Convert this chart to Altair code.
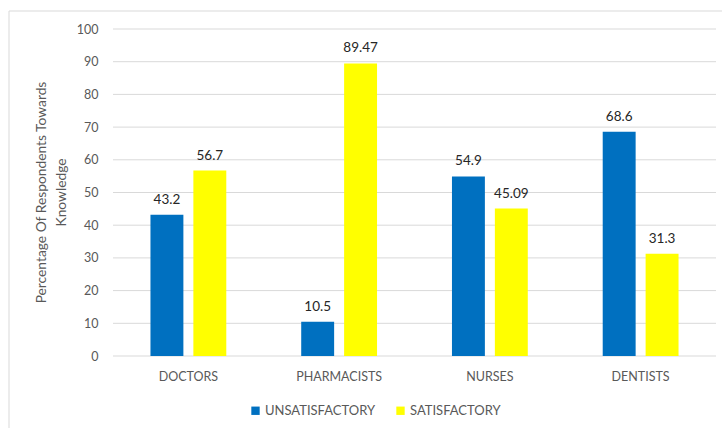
import altair as alt
import pandas as pd

# Knowledge survey results by professional group
groups = ["DOCTORS", "PHARMACISTS", "NURSES", "DENTISTS"]
unsatisfactory = [43.2, 10.5, 54.9, 68.6]
satisfactory = [56.7, 89.47, 45.09, 31.3]
levels = ["UNSATISFACTORY", "SATISFACTORY"]
level_colors = ["#0070C0", "#FFFF00"]
y_ticks = [0, 10, 20, 30, 40, 50, 60, 70, 80, 90, 100]

rows = []
for g, u, s in zip(groups, unsatisfactory, satisfactory):
    rows.append({"group": g, "level": levels[0], "value": u})
    rows.append({"group": g, "level": levels[1], "value": s})
df = pd.DataFrame(rows)
ticks_df = pd.DataFrame({"tick": y_ticks})

FONT = "Lato"
GRAY = "#595959"
y_scale = alt.Scale(domain=[0, 100], nice=False)

x_enc = alt.X("group:N", sort=groups, title=None,
              scale=alt.Scale(paddingInner=0.497, paddingOuter=0.2485),
              axis=alt.Axis(labelAngle=0, ticks=False, domain=False,
                            labelPadding=14, labelColor=GRAY,
                            labelFontSize=12.5, labelFont=FONT, grid=False))
xo_enc = alt.XOffset("level:N", sort=levels,
                     scale=alt.Scale(paddingInner=0.2326, paddingOuter=0))

# horizontal gridlines at every tick value; this layer carries the y axis
grid = alt.Chart(ticks_df).mark_rule(color="#d9d9d9", strokeWidth=1).encode(
    y=alt.Y("tick:Q", scale=y_scale,
            axis=alt.Axis(values=y_ticks, labelOverlap=False,
                          ticks=False, domain=False, grid=False,
                          labelPadding=15, labelColor=GRAY,
                          labelFontSize=12.5, labelFont=FONT,
                          title=["Percentage Of Respondents Towards", "Knowledge"],
                          titleColor=GRAY, titleFont=FONT, titleFontSize=13.8,
                          titleFontWeight="normal", titleAngle=-90,
                          titleX=-79, titleY=163, titleAlign="center",
                          titleBaseline="top", titleLineHeight=20)),
)

bars = alt.Chart(df).mark_bar().encode(
    x=x_enc,
    xOffset=xo_enc,
    y=alt.Y("value:Q", scale=y_scale, axis=None),
    color=alt.Color("level:N", sort=levels,
                    scale=alt.Scale(domain=levels, range=level_colors),
                    legend=alt.Legend(title=None, orient="none",
                                      direction="horizontal",
                                      legendX=136, legendY=375,
                                      symbolType="square", symbolSize=70,
                                      symbolStrokeWidth=0,
                                      labelColor=GRAY, labelFont=FONT,
                                      labelFontSize=13, columnPadding=18,
                                      symbolOffset=0, labelOffset=3)),
)

labels = alt.Chart(df).mark_text(
    baseline="bottom", dy=-8, fontSize=13.5, font=FONT, color="#262626"
).encode(
    x=x_enc,
    xOffset=xo_enc,
    y=alt.Y("value:Q", scale=y_scale, axis=None),
    text=alt.Text("value:Q"),
)

# light frame around the whole figure
frame = alt.Chart(pd.DataFrame({"k": [0]})).mark_rect(
    fill=None, stroke="#d9d9d9", strokeWidth=1, clip=False
).encode(
    x=alt.value(-104), x2=alt.value(620),
    y=alt.value(-18), y2=alt.value(410),
)

chart = alt.layer(frame, grid, bars, labels).resolve_axis(
    y="independent"
).properties(
    width=603, height=327,
    padding={"left": 113, "top": 29, "right": 6, "bottom": 72},
    autosize=alt.AutoSizeParams(type="none"),
    background="white",
).configure_view(stroke=None)

chart.save("out.html", embed_options={"renderer": "svg", "actions": False})
